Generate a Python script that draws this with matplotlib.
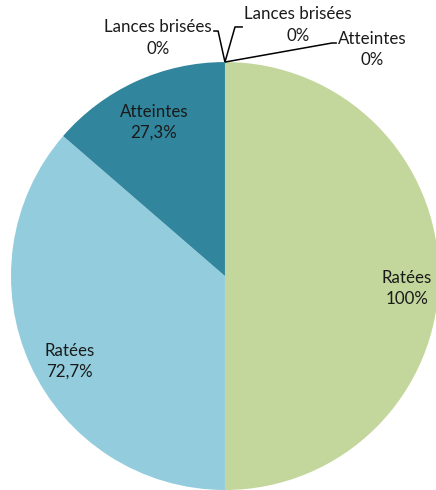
import matplotlib
matplotlib.use("Agg")
import matplotlib.pyplot as plt
import numpy as np

plt.rcParams["font.family"] = ["Lato", "DejaVu Sans"]

# two groups, each drawn on one half of the pie (clockwise from 12 o'clock)
RIGHT_LABELS = ["Atteintes", "Lances brisées", "Ratées"]
RIGHT_PCT = [0.0, 0.0, 100.0]
LEFT_LABELS = ["Ratées", "Atteintes", "Lances brisées"]
LEFT_PCT = [72.7, 27.3, 0.0]

COLORS = {
    ("R", "Ratées"): "#C3D69B",
    ("R", "Atteintes"): "#C3D69B",
    ("R", "Lances brisées"): "#C3D69B",
    ("L", "Ratées"): "#93CDDD",
    ("L", "Atteintes"): "#31859C",
    ("L", "Lances brisées"): "#1F5F70",
}


def fmt(v):
    if v == 0:
        return "0%"
    if v == 100:
        return "100%"
    return f"{v:.1f}".replace(".", ",") + "%"


labels = [("R", l) for l in RIGHT_LABELS] + [("L", l) for l in LEFT_LABELS]
pcts = RIGHT_PCT + LEFT_PCT
sizes = [p / 2 for p in pcts]
colors = [COLORS[k] for k in labels]

fig = plt.figure(figsize=(4.36, 4.90), dpi=100)
ax = fig.add_axes([0, 0, 1, 1])
wedges, _ = ax.pie(sizes, colors=colors, startangle=90, counterclock=False,
                   radius=1.0, wedgeprops={"linewidth": 0})
ax.set_xlim(-1.051, 0.986)
ax.set_ylim(-1.0, 1.290)
ax.set_aspect("equal")
ax.axis("off")

FS = 12.2
LS = 1.4
TXT = "#1a1a1a"

# label placement inside the filled slices: (radius, vertical nudge)
INSIDE = {
    ("R", "Ratées"): (0.85, -0.06),
    ("L", "Ratées"): (0.80, -0.065),
    ("L", "Atteintes"): (0.80, -0.01),
}

# leader label positions for the empty slices (in pie radius units)
ZERO_POS = {
    ("L", "Lances brisées"): ((-0.313, 1.112), [(-0.055, 1.145), (-0.032, 1.145)]),
    ("R", "Lances brisées"): ((0.341, 1.173), [(0.084, 1.164), (0.047, 1.164)]),
    ("R", "Atteintes"): ((0.687, 1.058), [(0.523, 1.089), (0.5, 1.089)]),
}

for w, key, pct in zip(wedges, labels, pcts):
    mid = np.deg2rad((w.theta1 + w.theta2) / 2)
    text = f"{key[1]}\n{fmt(pct)}"
    if pct > 0:
        r, dy = INSIDE[key]
        ax.text(r * np.cos(mid), r * np.sin(mid) + dy, text, ha="center", va="center",
                fontsize=FS, color=TXT, linespacing=LS)
    else:
        (tx, ty), pts = ZERO_POS[key]
        ax.text(tx, ty, text, ha="center", va="center", fontsize=FS,
                color=TXT, linespacing=LS)
        ex, ey = np.cos(mid), np.sin(mid)
        xs = [p[0] for p in pts] + [ex]
        ys = [p[1] for p in pts] + [ey]
        ax.plot(xs, ys, color="black", linewidth=1.1, solid_capstyle="butt")

fig.savefig("out.png", dpi=100, facecolor="white")
